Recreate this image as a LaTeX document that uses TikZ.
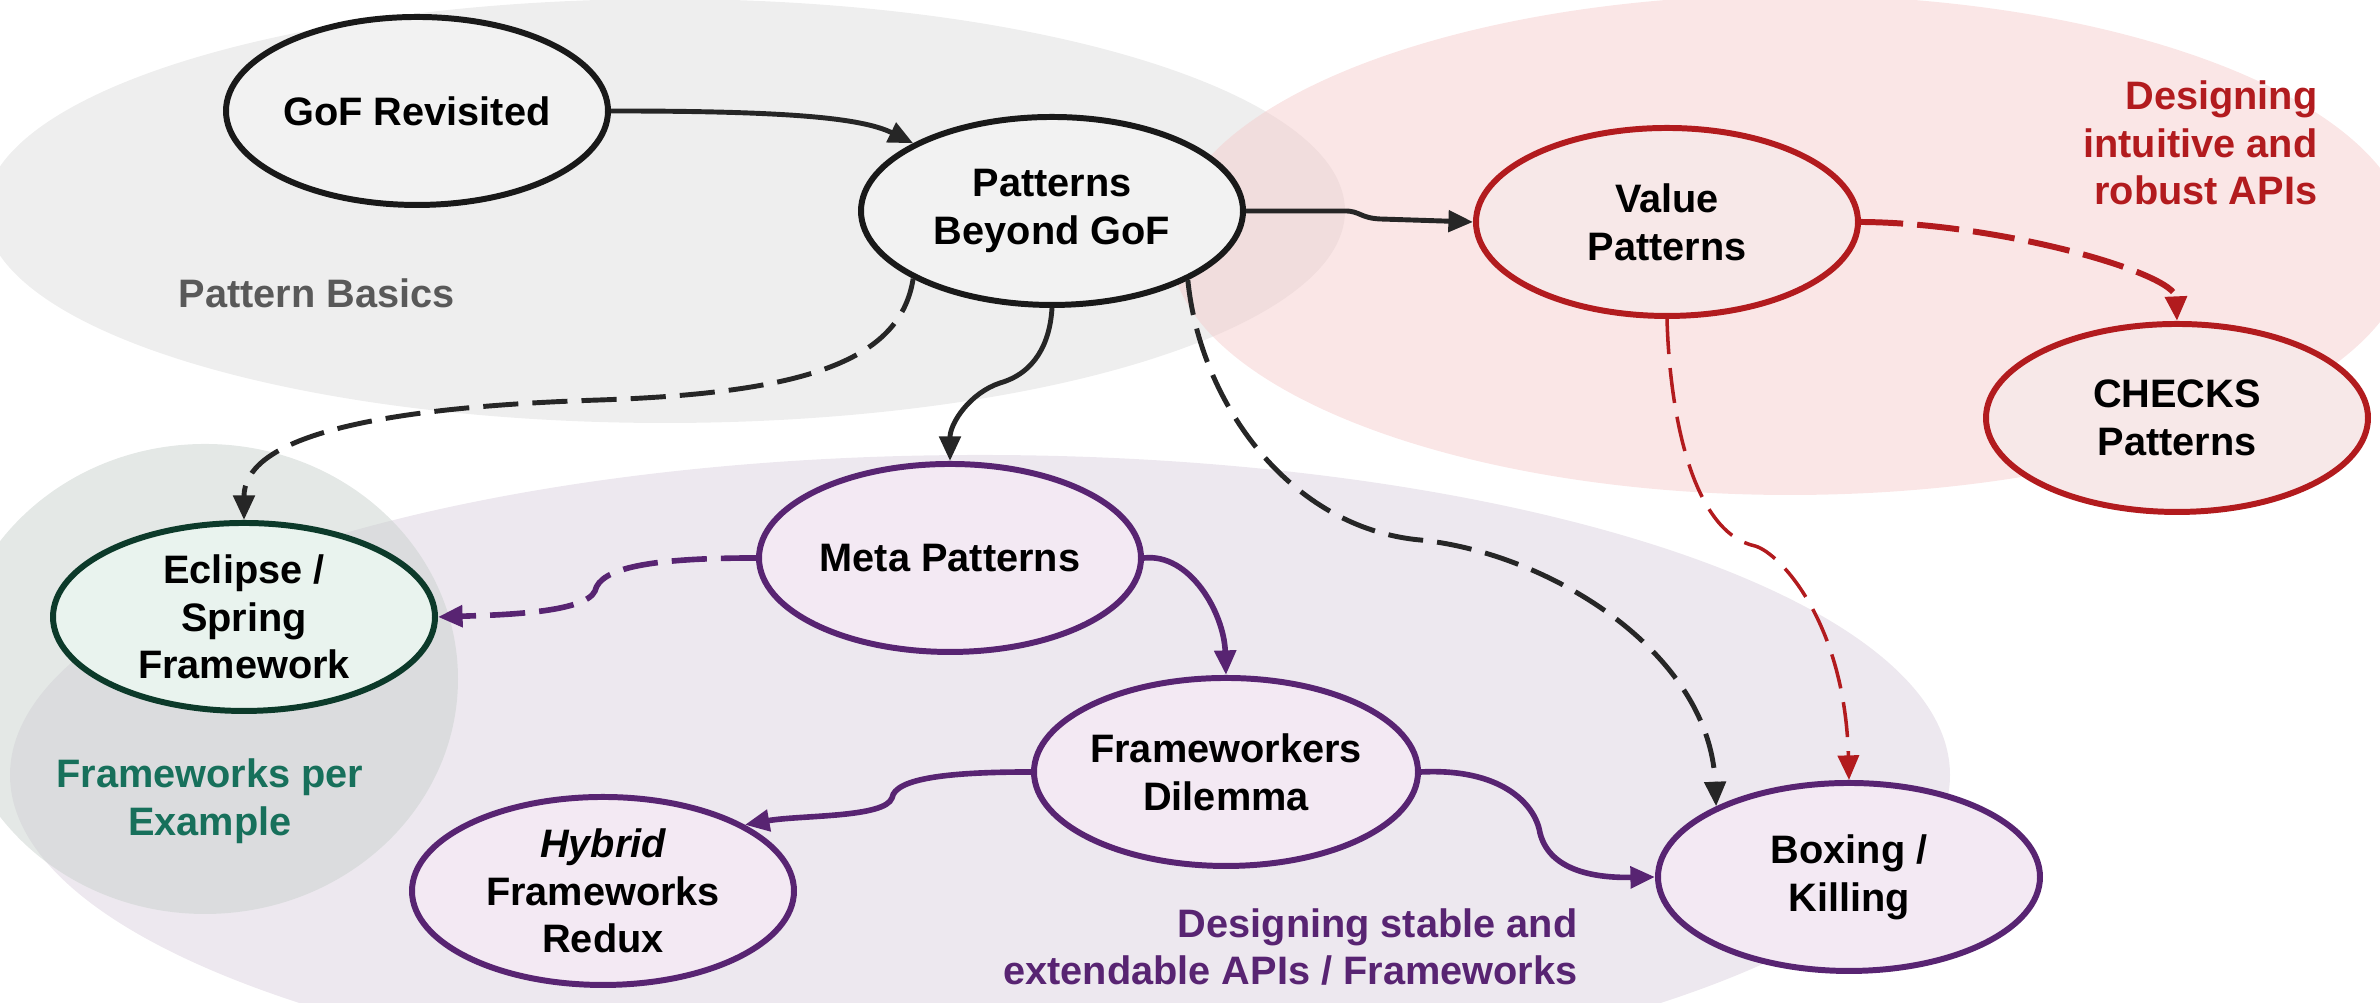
\documentclass[tikz,border=0pt]{standalone}
\usepackage{fontspec}
\setmainfont{Liberation Sans}
\usetikzlibrary{shapes.geometric,arrows.meta}

\definecolor{basicsbg}{RGB}{221,221,221}
\definecolor{apibg}{RGB}{245,205,205}
\definecolor{frameworkbg}{RGB}{219,209,223}
\definecolor{examplebg}{RGB}{201,209,205}
\definecolor{darkline}{RGB}{38,38,38}
\definecolor{apired}{RGB}{178,27,30}
\definecolor{fwpurple}{RGB}{88,36,114}
\definecolor{exgreen}{RGB}{12,58,42}
\definecolor{exgreentext}{RGB}{23,112,91}
\definecolor{basicstext}{RGB}{89,89,89}
\definecolor{fwnodebg}{RGB}{243,233,243}
\definecolor{exnodebg}{RGB}{233,243,238}

\tikzset{
  topic/.style={ellipse, line width=1.7pt, minimum width=3.82cm, minimum height=1.88cm,
    inner sep=0pt, align=center, font=\bfseries\fontsize{11.3}{13.6}\selectfont},
  basicnode/.style={topic, draw=black!90, fill=black!5},
  apinode/.style={topic, draw=apired, fill=apired!10},
  fwnode/.style={topic, draw=fwpurple, fill=fwnodebg},
  exnode/.style={topic, draw=exgreen, fill=exnodebg},
  area/.style={align=center, inner sep=0pt, font=\bfseries\fontsize{11.3}{13.6}\selectfont},
  link/.style={line width=1.4pt, -{Triangle[length=7pt,width=6pt]}},
  dashlink/.style={link, dash pattern=on 10pt off 4pt}
}

\begin{document}
\begin{tikzpicture}
    \clip (0,0) rectangle (23.8,10.03);
    % Background areas
    \fill[basicsbg, fill opacity=0.5] (6.65,7.92) ellipse (6.8 and 2.12);
    \fill[apibg, fill opacity=0.5] (17.9,7.58) ellipse (6.2 and 2.5);
    \fill[frameworkbg, fill opacity=0.5] (9.8,2.28) ellipse (9.7 and 3.2);
    \fill[examplebg, fill opacity=0.5] (2.05,3.24) ellipse (2.53 and 2.35);

    % Area labels
    \node[area, text=basicstext, anchor=base west] (basics) at (1.78,6.95) {Pattern Basics};
    \node[area, text=apired, align=right, anchor=east] (api) at (23.18,8.60)
        {Designing\\intuitive and\\robust APIs};
    \node[area, text=exgreentext] (perexample) at (2.10,2.02) {Frameworks per\\Example};
    \node[area, text=fwpurple, align=right, anchor=east] (stable) at (15.78,0.56)
        {Designing stable and\\extendable APIs / Frameworks};

    % Topics
    \node[basicnode] (gof) at (4.17,8.92) {GoF Revisited};
    \node[basicnode] (beyond) at (10.52,7.92) {Patterns\\Beyond GoF};
    \node[apinode] (value) at (16.67,7.81) {Value\\Patterns};
    \node[apinode] (checks) at (21.77,5.85) {CHECKS\\Patterns};
    \node[fwnode] (meta) at (9.50,4.45) {Meta Patterns};
    \node[exnode] (eclipse) at (2.44,3.86) {Eclipse /\\Spring\\Framework};
    \node[fwnode] (dilemma) at (12.26,2.31) {Frameworkers\\Dilemma};
    \node[fwnode] (hybrid) at (6.03,1.12) {{\itshape Hybrid}\\Frameworks\\Redux};
    \node[fwnode] (boxing) at (18.49,1.26) {Boxing /\\Killing};

    % Black links
    \draw[link, darkline] (gof.east) .. controls (7.8,8.92) and (8.6,8.86) .. (beyond.154);
    \draw[link, darkline] (beyond.east) -- (13.45,7.92) .. controls (13.6,7.92) and (13.6,7.85) .. (13.8,7.84) -- (value.west);
    \draw[link, darkline] (beyond.south) .. controls (10.5,6.6) and (10.35,6.3) .. (10.0,6.2)
        .. controls (9.7,6.1) and (9.5,5.8) .. (meta.north);
    \draw[dashlink, darkline] (beyond.206) .. controls (9.0,6.4) and (8.0,6.1) .. (6.0,6.03)
        .. controls (3.5,5.95) and (2.44,5.6) .. (eclipse.north);
    \draw[dashlink, darkline] (beyond.333) .. controls (12.0,6.0) and (12.9,4.75) .. (14.2,4.63)
        .. controls (15.5,4.5) and (17.1,3.5) .. (boxing.152);

    % Red links
    \draw[dashlink, apired, line width=1.7pt, dash pattern=on 12pt off 4pt] (value.east) .. controls (20.0,7.8) and (21.75,7.3) .. (checks.north);
    \draw[dashlink, apired, line width=1pt] (value.south) .. controls (16.7,5.8) and (16.95,4.7) .. (17.55,4.57)
        .. controls (17.8,4.5) and (18.45,3.8) .. (boxing.north);

    % Purple links
    \draw[dashlink, fwpurple, line width=1.6pt] (meta.west) .. controls (6.5,4.45) and (6.0,4.35) .. (5.95,4.12)
        .. controls (5.85,3.9) and (5.0,3.88) .. (eclipse.east);
    \draw[link, fwpurple, line width=1.6pt] (meta.east) .. controls (11.9,4.5) and (12.24,3.9) .. (dilemma.north);
    \draw[link, fwpurple, line width=1.6pt] (dilemma.west) .. controls (9.5,2.31) and (8.95,2.25) .. (8.92,2.05)
        .. controls (8.85,1.85) and (8.0,1.88) .. (hybrid.25);
    \draw[link, fwpurple, line width=1.6pt] (dilemma.east) .. controls (15.0,2.35) and (15.35,2.0) .. (15.4,1.7)
        .. controls (15.5,1.3) and (16.0,1.25) .. (boxing.west);
\end{tikzpicture}
\end{document}
